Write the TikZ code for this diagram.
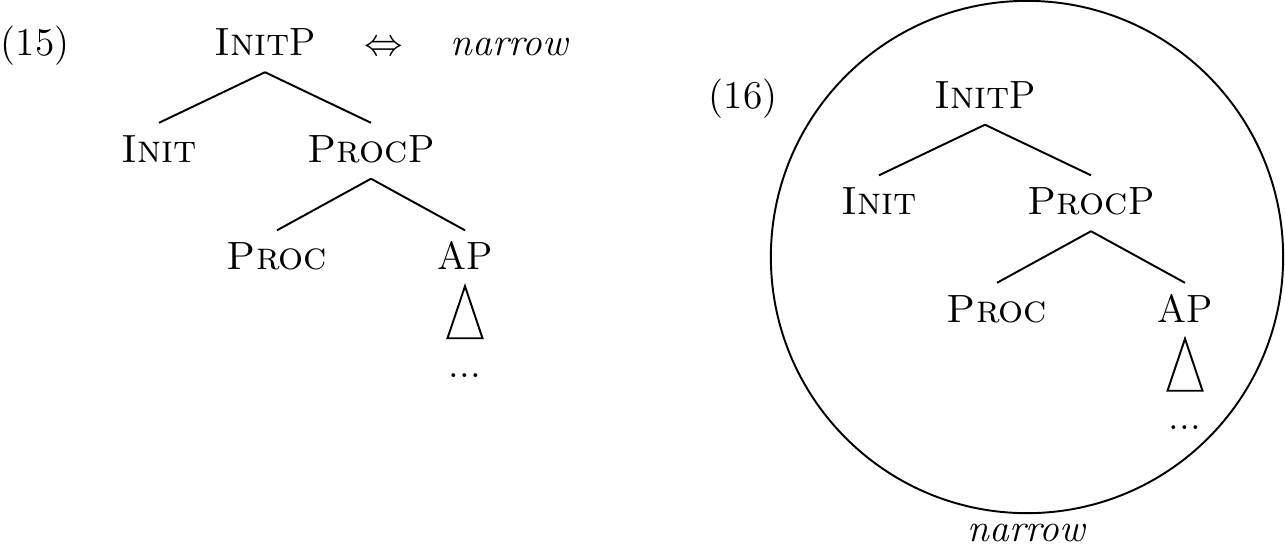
\documentclass[tikz,border=0pt]{standalone}
\usepackage{amssymb}
\usepackage{amsmath}
\usetikzlibrary{positioning}

\begin{document}
\begin{tikzpicture}[x=0.01cm, y=-0.01cm, line width=0.55pt,
	font=\fontsize{11.2}{13.5}\selectfont,
	exnum/.style={anchor=base west, inner sep=0pt},
	cat/.style={anchor=base, inner sep=0pt, text height=7.6pt,
		text depth=1.2pt, outer ysep=3.55pt}]
	\useasboundingbox (0,0) rectangle (1285,550);
	% (15)
	\node[exnum] (ex15) at (0,55.5) {(15)};
	\node[cat] (initp15) at (265,55.5) {\textsc{Init}P};
	\node[cat] (iff15) at (384,55.5) {$\Leftrightarrow$};
	\node[cat] (narrow15) at (510,55.5) {\textit{narrow}};
	\node[cat] (init15) at (159,162) {\textsc{Init}};
	\node[cat] (procp15) at (371,162) {\textsc{Proc}P};
	\node[cat] (proc15) at (277,269.5) {\textsc{Proc}};
	\node[cat] (ap15) at (465,269.5) {AP};
	\node[cat] (dots15) at (465,377) {...};
	\draw (initp15.south) -- (init15.north);
	\draw (initp15.south) -- (procp15.north);
	\draw (procp15.south) -- (proc15.north);
	\draw (procp15.south) -- (ap15.north);
	\draw (ap15.south) -- ++(-17.5,52) -- ++(35,0) -- cycle;
	% (16)
	\node[draw,circle,minimum size=5.12cm,inner sep=0pt] (bag) at (1027,257) {};
	\node[exnum] (ex16) at (708,108) {(16)};
	\node[cat] (initp16) at (985,108) {\textsc{Init}P};
	\node[cat] (init16) at (879,214.5) {\textsc{Init}};
	\node[cat] (procp16) at (1091,214.5) {\textsc{Proc}P};
	\node[cat] (proc16) at (997,322) {\textsc{Proc}};
	\node[cat] (ap16) at (1185,322) {AP};
	\node[cat] (dots16) at (1185,429.5) {...};
	\node[cat] (narrow16) at (1027,541.5) {\textit{narrow}};
	\draw (initp16.south) -- (init16.north);
	\draw (initp16.south) -- (procp16.north);
	\draw (procp16.south) -- (proc16.north);
	\draw (procp16.south) -- (ap16.north);
	\draw (ap16.south) -- ++(-17.5,52) -- ++(35,0) -- cycle;
\end{tikzpicture}
\end{document}
